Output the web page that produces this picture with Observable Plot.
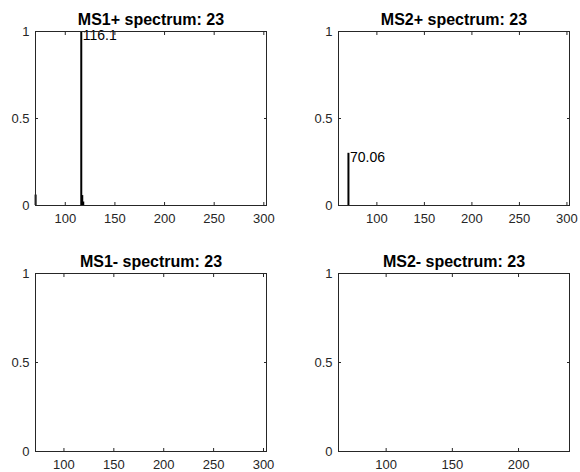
<!DOCTYPE html>
<html>
<head>
<meta charset="utf-8">
<script src="https://cdn.jsdelivr.net/npm/d3@7"></script>
<script src="https://cdn.jsdelivr.net/npm/@observablehq/plot@0.6"></script>
<style>
  body { margin: 0; background: #fff; }
  #wrap { position: relative; width: 580px; height: 472px; overflow: hidden; background: #fff; }
  #wrap svg { position: absolute; }
</style>
</head>
<body>
<div id="wrap"></div>
<script>
// ---- data ----
const panelTitles = ["MS1+ spectrum: 23", "MS2+ spectrum: 23", "MS1- spectrum: 23", "MS2- spectrum: 23"];

const ms1PosMz  = [70.1, 116.1, 117.1, 118.1];
const ms1PosInt = [0.06, 1.0, 0.057, 0.02];
const ms1PosLabelMz = [116.1];
const ms1PosLabelInt = [1.0];
const ms1PosLabelText = ["116.1"];

const ms2PosMz  = [70.06];
const ms2PosInt = [0.30];
const ms2PosLabelMz = [70.06];
const ms2PosLabelInt = [0.30];
const ms2PosLabelText = ["70.06"];

const ms1NegMz = [], ms1NegInt = [];
const ms2NegMz = [], ms2NegInt = [];

const xDomainMs1Pos = [70, 302.7];
const xDomainMs2Pos = [59.6, 302.7];
const xDomainMs1Neg = [71.5, 303];
const xDomainMs2Neg = [64, 238.5];

const xTicksWide = [100, 150, 200, 250, 300];
const xTicksNarrow = [100, 150, 200];
const yTicks = [0, 0.5, 1];
const yTickLabels = ["0", "0.5", "1"];

// ---- build ----
const zip = (mz, it) => mz.map((m, i) => ({mz: m, int: it[i]}));
const zipLab = (mz, it, tx) => mz.map((m, i) => ({mz: m, int: it[i], label: tx[i]}));

const panels = [
  {title: panelTitles[0], data: zip(ms1PosMz, ms1PosInt), labels: zipLab(ms1PosLabelMz, ms1PosLabelInt, ms1PosLabelText), xDomain: xDomainMs1Pos, xTicks: xTicksWide},
  {title: panelTitles[1], data: zip(ms2PosMz, ms2PosInt), labels: zipLab(ms2PosLabelMz, ms2PosLabelInt, ms2PosLabelText), xDomain: xDomainMs2Pos, xTicks: xTicksWide},
  {title: panelTitles[2], data: zip(ms1NegMz, ms1NegInt), labels: [], xDomain: xDomainMs1Neg, xTicks: xTicksWide},
  {title: panelTitles[3], data: zip(ms2NegMz, ms2NegInt), labels: [], xDomain: xDomainMs2Neg, xTicks: xTicksNarrow}
];

// layout (positions of each subplot)
const layout = [
  {left: 0,   top: 0,   ml: 35, mr: 24, mt: 31, mb: 31},
  {left: 290, top: 0,   ml: 48, mr: 11, mt: 31, mb: 31},
  {left: 0,   top: 236, ml: 35, mr: 24, mt: 37, mb: 21},
  {left: 290, top: 236, ml: 48, mr: 11, mt: 37, mb: 21}
];

const FONT = "'Liberation Sans', Arial, Helvetica, sans-serif";
const AX = "#262626";
const wrap = document.getElementById("wrap");

panels.forEach((p, i) => {
  const L = layout[i];
  const yLab = new Map(yTicks.map((t, k) => [t, yTickLabels[k]]));
  const svg = Plot.plot({
    width: 290,
    height: 236,
    marginLeft: L.ml, marginRight: L.mr, marginTop: L.mt, marginBottom: L.mb,
    style: {fontFamily: FONT, fontSize: "13px", color: AX, background: "transparent", overflow: "visible"},
    x: {domain: p.xDomain, label: null},
    y: {domain: [0, 1], label: null},
    marks: [
      Plot.ruleX(p.data, {x: "mz", y1: 0, y2: "int", stroke: "#000", strokeWidth: 2}),
      Plot.text(p.labels, {x: "mz", y: "int", text: "label", textAnchor: "start", lineAnchor: "middle", dx: 1.5, dy: 4, fontSize: 14, fill: "#000"}),
      Plot.frame({stroke: AX}),
      Plot.axisX(p.xTicks, {anchor: "bottom", label: null, tickSize: -3, tickPadding: 11, fontSize: 13, stroke: AX, fill: AX, lineAnchor: "top"}),
      Plot.axisX(p.xTicks, {anchor: "top", label: null, tickSize: -3, tickFormat: () => "", stroke: AX}),
      Plot.axisY(yTicks, {anchor: "left", label: null, tickSize: -3, tickPadding: 9, fontSize: 13, stroke: AX, fill: AX, tickFormat: (d) => yLab.get(d)}),
      Plot.axisY(yTicks, {anchor: "right", label: null, tickSize: -3, tickFormat: () => "", stroke: AX}),
      Plot.text([p.title], {frameAnchor: "top", lineAnchor: "bottom", dy: -7, fontWeight: "bold", fontSize: 16, fill: "#000"})
    ]
  });
  svg.style.left = L.left + "px";
  svg.style.top = L.top + "px";
  wrap.appendChild(svg);
});
</script>
</body>
</html>
